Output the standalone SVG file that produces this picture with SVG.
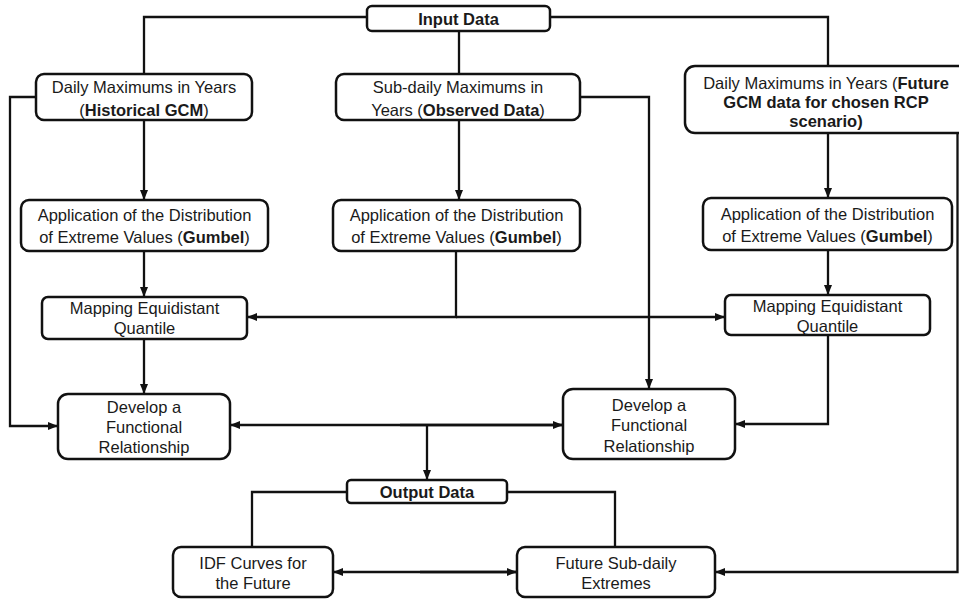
<svg xmlns="http://www.w3.org/2000/svg" width="959" height="599" viewBox="0 0 959 599">
<style>
.box{fill:#fff;stroke:#111;stroke-width:2.5}
.ln{fill:none;stroke:#111;stroke-width:2.3}
.ar{marker-end:url(#ah)}
.t{font-family:"Liberation Sans",Arial,sans-serif;font-size:16.5px;fill:#1a1a1a;text-anchor:middle}
.b{font-weight:bold}
</style>
<defs>
<marker id="ah" viewBox="0 0 10 10" refX="10" refY="5" markerWidth="10" markerHeight="10" markerUnits="userSpaceOnUse" orient="auto">
<path d="M0,1 L10,5 L0,9 Z" fill="#111"/>
</marker>
</defs>
<rect width="959" height="599" fill="#fff"/>
<g id="connectors">
<path class="ln" d="M367,17 H144 V74"/>
<path class="ln" d="M459,31 V74"/>
<path class="ln" d="M550,17 H828 V66"/>
<path class="ln ar" d="M144,120 V200"/>
<path class="ln ar" d="M459,120 V200"/>
<path class="ln ar" d="M828,133 V198"/>
<path class="ln ar" d="M36,97 H10 V426 H58"/>
<path class="ln ar" d="M580,97 H649 V389"/>
<path class="ln ar" d="M144,251 V297"/>
<path class="ln ar" d="M828,250 V295"/>
<path class="ln ar" d="M456,251 V317 H247"/>
<path class="ln ar" d="M456,317 H725"/>
<path class="ln ar" d="M144,339 V394"/>
<path class="ln ar" d="M828,335 V424 H735"/>
<path class="ln ar" d="M563,425 H230"/>
<path class="ln ar" d="M400,425 H563"/>
<path class="ln ar" d="M427,425 V480"/>
<path class="ln" d="M347,492 H252 V547"/>
<path class="ln" d="M507,492 H615 V547"/>
<path class="ln ar" d="M517,572 H333"/>
<path class="ln ar" d="M420,572 H517"/>
<path class="ln ar" d="M957.5,133 V572 H715"/>
</g>
<g id="input-data">
<rect class="box" x="367" y="6" width="183" height="25" rx="5"/>
<text class="t b" x="458.5" y="24.5">Input Data</text>
</g>
<g id="daily-historical">
<rect class="box" x="36" y="74" width="216" height="46" rx="8"/>
<text class="t" x="144" y="93">Daily Maximums in Years</text>
<text class="t" x="144" y="115.5">(<tspan class="b">Historical GCM</tspan>)</text>
</g>
<g id="subdaily-observed">
<rect class="box" x="336" y="74" width="244" height="46" rx="8"/>
<text class="t" x="458" y="93">Sub-daily Maximums in</text>
<text class="t" x="458" y="115.5">Years (<tspan class="b">Observed Data</tspan>)</text>
</g>
<g id="daily-future">
<rect class="box" x="685" y="66" width="285" height="67" rx="10"/>
<text class="t" x="826" y="89">Daily Maximums in Years (<tspan class="b">Future</tspan></text>
<text class="t b" x="826" y="107.5">GCM data for chosen RCP</text>
<text class="t b" x="826" y="126.5">scenario)</text>
</g>
<g id="gumbel-1">
<rect class="box" x="21" y="200" width="247" height="51" rx="8"/>
<text class="t" x="144.5" y="221">Application of the Distribution</text>
<text class="t" x="144.5" y="243">of Extreme Values (<tspan class="b">Gumbel</tspan>)</text>
</g>
<g id="gumbel-2">
<rect class="box" x="333" y="200" width="247" height="51" rx="8"/>
<text class="t" x="456.5" y="221">Application of the Distribution</text>
<text class="t" x="456.5" y="243">of Extreme Values (<tspan class="b">Gumbel</tspan>)</text>
</g>
<g id="gumbel-3">
<rect class="box" x="703" y="198" width="249" height="52" rx="8"/>
<text class="t" x="827.5" y="220">Application of the Distribution</text>
<text class="t" x="827.5" y="242">of Extreme Values (<tspan class="b">Gumbel</tspan>)</text>
</g>
<g id="mapping-1">
<rect class="box" x="42" y="297" width="205" height="42" rx="6"/>
<text class="t" x="144.5" y="314">Mapping Equidistant</text>
<text class="t" x="144.5" y="334">Quantile</text>
</g>
<g id="mapping-2">
<rect class="box" x="725" y="295" width="205" height="40" rx="6"/>
<text class="t" x="827.5" y="312">Mapping Equidistant</text>
<text class="t" x="827.5" y="332">Quantile</text>
</g>
<g id="develop-1">
<rect class="box" x="58" y="394" width="172" height="65" rx="10"/>
<text class="t" x="144" y="413">Develop a</text>
<text class="t" x="144" y="433">Functional</text>
<text class="t" x="144" y="453">Relationship</text>
</g>
<g id="develop-2">
<rect class="box" x="563" y="389" width="172" height="70" rx="10"/>
<text class="t" x="649" y="411">Develop a</text>
<text class="t" x="649" y="431">Functional</text>
<text class="t" x="649" y="452">Relationship</text>
</g>
<g id="output-data">
<rect class="box" x="347" y="480" width="160" height="23" rx="4"/>
<text class="t b" x="427" y="497.5">Output Data</text>
</g>
<g id="idf-curves">
<rect class="box" x="173" y="547" width="160" height="50" rx="8"/>
<text class="t" x="253" y="569">IDF Curves for</text>
<text class="t" x="253" y="589">the Future</text>
</g>
<g id="future-subdaily">
<rect class="box" x="517" y="547" width="198" height="50" rx="8"/>
<text class="t" x="616" y="569">Future Sub-daily</text>
<text class="t" x="616" y="589">Extremes</text>
</g>
</svg>
